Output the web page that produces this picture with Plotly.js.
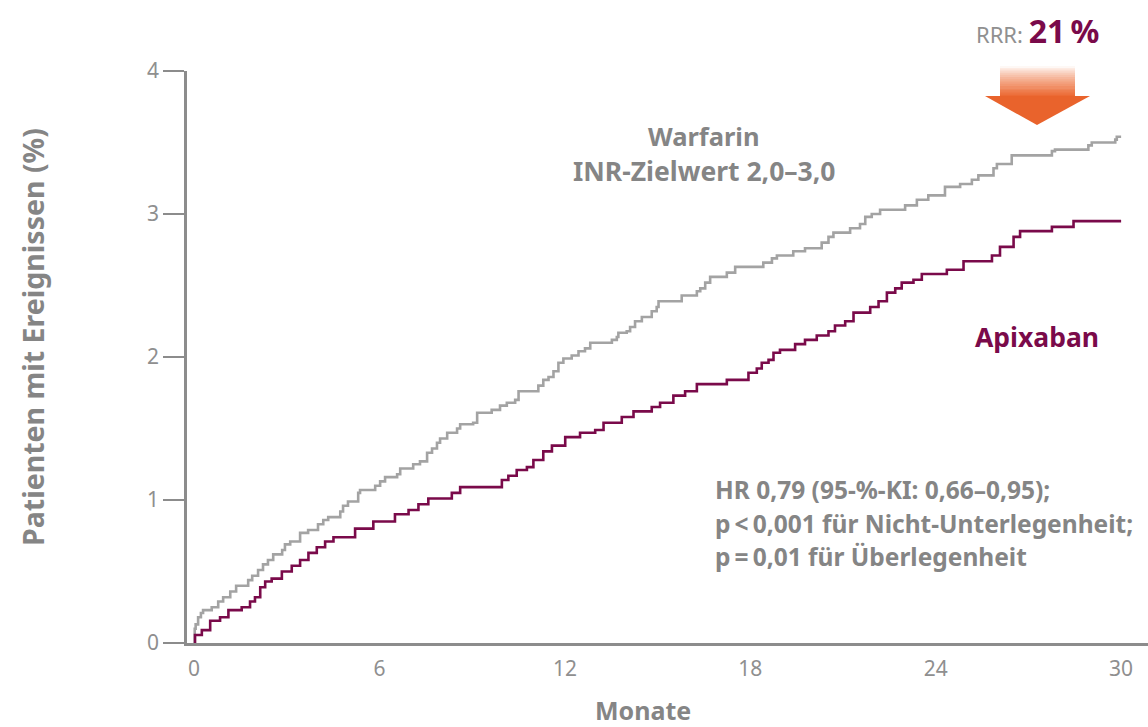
<!DOCTYPE html>
<html>
<head>
<meta charset="utf-8">
<script src="https://cdn.plot.ly/plotly-3.0.1.min.js"></script>
<style>html,body{margin:0;padding:0;background:#fff;}#chart{width:1148px;height:727px;}</style>
</head>
<body>
<div id="chart"></div>
<script>
// ---- data ----
var warfarinMonths = [0,0.02,0.05,0.13,0.22,0.29,0.57,0.78,0.94,1.17,1.36,1.75,1.88,2.07,2.23,2.39,2.56,2.85,2.94,3.11,3.43,3.69,4.01,4.18,4.34,4.73,4.82,4.98,5.31,5.37,5.86,6.02,6.18,6.57,6.67,7.09,7.31,7.54,7.70,7.86,7.96,8.19,8.51,8.61,9.03,9.16,9.63,9.90,10.12,10.39,10.50,11.14,11.30,11.47,11.63,11.79,11.95,12.22,12.44,12.65,12.82,13.52,13.68,13.73,14.00,14.11,14.27,14.49,14.81,14.97,15.03,15.78,16.27,16.38,16.54,16.70,17.24,17.51,18.42,18.70,18.86,19.39,19.77,20.31,20.53,20.69,21.23,21.55,21.72,21.93,22.20,23.01,23.39,23.76,24.30,24.79,25.17,25.38,25.87,25.98,26.46,27.76,27.86,28.94,29.05,29.81,29.86,30.0];
var warfarinPct = [0,0.10,0.13,0.18,0.21,0.23,0.25,0.29,0.32,0.36,0.40,0.44,0.47,0.51,0.55,0.58,0.62,0.65,0.69,0.71,0.77,0.79,0.83,0.86,0.88,0.92,0.96,0.99,1.05,1.07,1.10,1.13,1.16,1.18,1.22,1.25,1.27,1.33,1.36,1.40,1.43,1.47,1.50,1.53,1.54,1.61,1.63,1.66,1.68,1.70,1.76,1.80,1.84,1.86,1.90,1.96,1.99,2.01,2.04,2.06,2.10,2.12,2.14,2.17,2.18,2.21,2.25,2.28,2.32,2.35,2.39,2.43,2.46,2.48,2.52,2.56,2.59,2.63,2.66,2.69,2.71,2.74,2.76,2.80,2.84,2.87,2.90,2.93,2.98,3.00,3.03,3.06,3.10,3.13,3.19,3.21,3.24,3.27,3.32,3.35,3.41,3.44,3.45,3.48,3.50,3.52,3.54,3.54];

var apixabanMonths = [0,0.03,0.25,0.52,0.84,1.11,1.54,1.81,1.97,2.14,2.30,2.51,2.84,3.16,3.43,3.70,3.97,4.24,4.51,5.21,5.80,6.50,6.94,7.26,7.58,8.34,8.61,9.96,10.17,10.44,10.77,10.98,11.30,11.58,12.01,12.49,12.98,13.25,13.84,14.22,14.81,15.08,15.51,15.89,16.27,17.24,17.94,18.21,18.37,18.59,18.75,18.96,19.45,19.77,20.15,20.53,20.74,21.07,21.34,21.88,22.15,22.42,22.69,22.90,23.28,23.55,24.36,24.90,25.82,26.08,26.52,26.73,27.76,28.46,30.0];
var apixabanPct = [0,0.056,0.09,0.156,0.18,0.23,0.25,0.29,0.32,0.39,0.43,0.45,0.50,0.54,0.58,0.63,0.67,0.71,0.74,0.80,0.85,0.90,0.93,0.97,1.01,1.05,1.09,1.14,1.17,1.21,1.23,1.28,1.34,1.38,1.44,1.47,1.49,1.54,1.58,1.62,1.65,1.68,1.73,1.76,1.81,1.84,1.89,1.92,1.96,1.98,2.03,2.05,2.09,2.12,2.15,2.18,2.22,2.25,2.31,2.35,2.39,2.45,2.48,2.52,2.54,2.58,2.61,2.67,2.71,2.77,2.84,2.88,2.91,2.95,2.95];

var xTickVals = [0,6,12,18,24,30];
var xTickText = ['0','6','12','18','24','30'];
var yTickVals = [0,1,2,3,4];
var yTickText = ['0','1','2','3','4'];

var seriesNames = ['Warfarin', 'Apixaban'];
var xTitle = 'Monate';
var yTitle = 'Patienten mit Ereignissen (%)';
var hrLines = [
  'HR 0,79 (95-%-KI: 0,66\u20130,95);',
  'p\u2009<\u20090,001 f\u00fcr Nicht-Unterlegenheit;',
  'p\u2009=\u20090,01 f\u00fcr \u00dcberlegenheit'
];

// ---- styling ----
var GRAY_TEXT = '#858585';
var GRAY_LINE = '#a3a3a3';
var AXIS = '#8c8c8c';
var PURPLE = '#7a0a4a';
var FONT = 'Noto Sans, sans-serif';

// pixel -> paper helpers (plot area: x 187..1148, y 71..643)
function px(x){ return (x - 187) / 961; }
function py(y){ return (643 - y) / 572; }

var traces = [
  {x: warfarinMonths, y: warfarinPct, name: seriesNames[0], mode: 'lines',
   line: {shape: 'hv', color: GRAY_LINE, width: 2.6}, hoverinfo: 'x+y+name'},
  {x: apixabanMonths, y: apixabanPct, name: seriesNames[1], mode: 'lines',
   line: {shape: 'hv', color: PURPLE, width: 2.6}, hoverinfo: 'x+y+name'}
];

// arrow (decoration): gradient shaft made of strips + triangular head
var shapes = [];
var nStrips = 14, shaftTop = 66, shaftBot = 97;
var c0 = [254, 248, 245], c1 = [236, 106, 52];
for (var i = 0; i < nStrips; i++) {
  var t = Math.pow(i / (nStrips - 1), 0.8);
  var col = 'rgb(' + Math.round(c0[0] + (c1[0]-c0[0])*t) + ',' + Math.round(c0[1] + (c1[1]-c0[1])*t) + ',' + Math.round(c0[2] + (c1[2]-c0[2])*t) + ')';
  var ya = shaftTop + (shaftBot - shaftTop) * i / nStrips;
  var yb = shaftTop + (shaftBot - shaftTop) * (i + 1) / nStrips + 0.6;
  shapes.push({type: 'rect', xref: 'paper', yref: 'paper', x0: px(1000), x1: px(1075), y0: py(yb), y1: py(ya),
    fillcolor: col, line: {width: 0}, layer: 'above'});
}
shapes.push({type: 'path', xref: 'paper', yref: 'paper',
  path: 'M ' + px(985) + ' ' + py(96) + ' L ' + px(1090) + ' ' + py(96) + ' L ' + px(1037) + ' ' + py(125) + ' Z',
  fillcolor: '#e9632c', line: {width: 0}, layer: 'above'});

var annotations = [
  {text: '<b>' + seriesNames[0] + '</b>', x: px(704), y: py(136), xref: 'paper', yref: 'paper', showarrow: false,
   xanchor: 'center', yanchor: 'middle', font: {family: FONT, size: 25.5, color: GRAY_TEXT}},
  {text: '<b>INR-Zielwert 2,0\u20133,0</b>', x: px(704), y: py(171), xref: 'paper', yref: 'paper', showarrow: false,
   xanchor: 'center', yanchor: 'middle', font: {family: FONT, size: 26.5, color: GRAY_TEXT}},
  {text: '<b>' + seriesNames[1] + '</b>', x: px(1037), y: py(337), xref: 'paper', yref: 'paper', showarrow: false,
   xanchor: 'center', yanchor: 'middle', font: {family: FONT, size: 26.5, color: PURPLE}},
  {text: 'RRR: <b><span style="color:' + PURPLE + ';font-size:32px">21\u2009%</span></b>', x: px(1037), y: py(31), xref: 'paper', yref: 'paper', showarrow: false,
   xanchor: 'center', yanchor: 'middle', font: {family: FONT, size: 22, color: '#909090'}},
  {text: '<b>' + xTitle + '</b>', x: px(643), y: py(710), xref: 'paper', yref: 'paper', showarrow: false,
   xanchor: 'center', yanchor: 'middle', font: {family: FONT, size: 25, color: GRAY_TEXT}},
  {text: '<b>' + yTitle + '</b>', x: px(33), y: py(337), xref: 'paper', yref: 'paper', showarrow: false, textangle: -90,
   xanchor: 'center', yanchor: 'middle', font: {family: FONT, size: 28.5, color: GRAY_TEXT}}
];
var hrY = [489, 523, 556];
for (var k = 0; k < hrLines.length; k++) {
  annotations.push({text: '<b>' + hrLines[k] + '</b>', x: px(713), y: py(hrY[k]), xref: 'paper', yref: 'paper', showarrow: false,
    xanchor: 'left', yanchor: 'middle', font: {family: FONT, size: 24.5, color: GRAY_TEXT}});
}

var layout = {
  width: 1148, height: 727,
  margin: {l: 187, r: 0, t: 71, b: 84, pad: 0},
  paper_bgcolor: '#ffffff', plot_bgcolor: '#ffffff',
  showlegend: false,
  font: {family: FONT, color: GRAY_TEXT},
  xaxis: {
    range: [-0.23, 30.87], showgrid: false, zeroline: false,
    showline: true, linecolor: AXIS, linewidth: 2.5,
    tickmode: 'array', tickvals: xTickVals, ticktext: xTickText,
    ticks: 'outside', ticklen: 5, tickcolor: 'rgba(0,0,0,0)',
    tickfont: {family: FONT, size: 21, color: '#8f8f8f'},
    automargin: false, fixedrange: true
  },
  yaxis: {
    range: [0, 4], showgrid: false, zeroline: false,
    showline: true, linecolor: AXIS, linewidth: 2.5,
    tickmode: 'array', tickvals: yTickVals, ticktext: yTickText,
    ticks: 'outside', ticklen: 21, tickcolor: AXIS, tickwidth: 1.5,
    tickfont: {family: FONT, size: 21, color: '#8f8f8f'},
    automargin: false, fixedrange: true
  },
  shapes: shapes,
  annotations: annotations
};

Plotly.newPlot('chart', traces, layout, {displayModeBar: false, responsive: false});
</script>
</body>
</html>
